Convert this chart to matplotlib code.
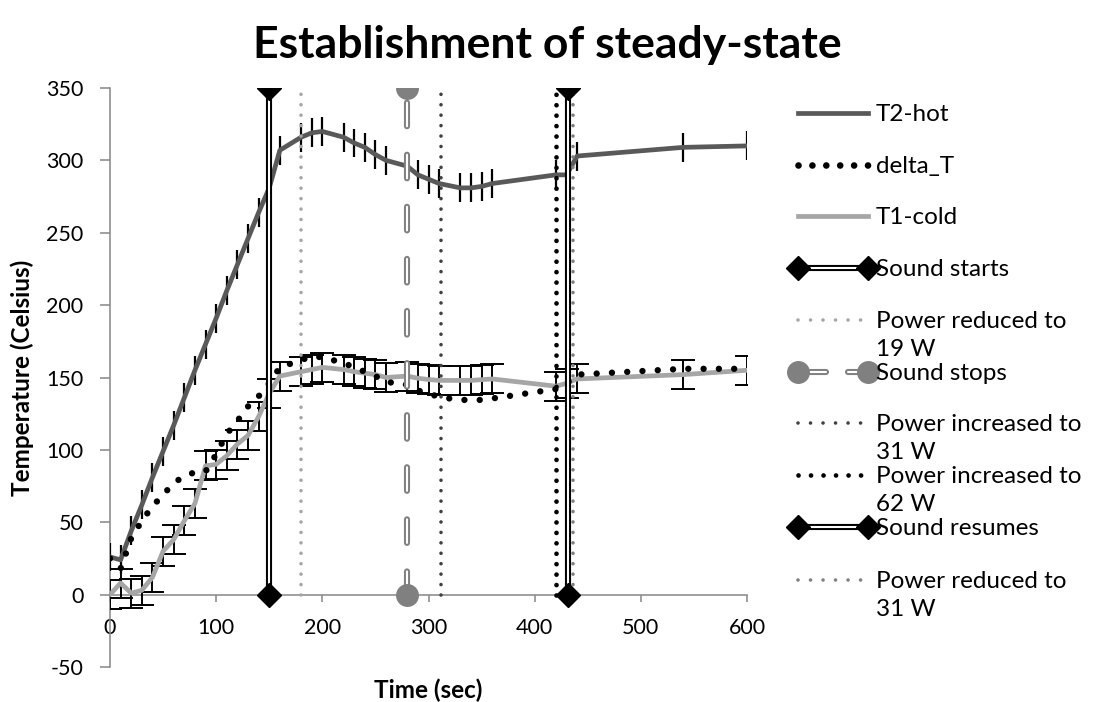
import matplotlib
matplotlib.use("Agg")
import matplotlib.pyplot as plt
from matplotlib.lines import Line2D

plt.rcParams['font.family'] = ['Lato', 'DejaVu Sans']
plt.rcParams['lines.scale_dashes'] = False
plt.rcParams['axes.unicode_minus'] = False

# ---------------- data ----------------
time_s = [0, 10, 20, 30, 40, 50, 60, 70, 80, 90, 100, 110, 120, 130, 140, 150,
          160, 180, 190, 200, 220, 230, 240, 250, 260, 280, 290, 300, 310,
          330, 340, 350, 360, 420, 430, 440, 540, 600]
t2_hot = [26, 24, 44, 62, 81, 99, 117, 136, 155, 173, 191, 210, 228, 246, 264, 281,
          307, 316, 319, 320, 316, 312, 309, 304, 300, 296, 290, 287, 284,
          281, 281, 282, 284, 290, 290, 303, 309, 310]
t1_cold = [0, 8, 1, 3, 12, 30, 38, 51, 63, 89, 90, 96, 104, 110, 123, 139,
           151, 154, 155.5, 157, 155.5, 154, 153, 152, 150, 151, 149.5, 148.6, 148,
           148, 148, 148.5, 149, 144, 146, 149, 152, 155]
delta_t = [25, 18, 39, 51, 61, 69, 77, 82, 84.5, 85, 97, 111, 120, 130, 137, 146,
           157, 162, 164.6, 164, 160, 157, 154, 151, 147, 145, 141, 139, 136.5,
           134.5, 134.5, 134.5, 135.5, 142, 146, 152, 156, 156]
hot_err = [10] * len(time_s)
cold_err = [10] * len(time_s)

event_names = ["Sound starts", "Power reduced to\n19 W", "Sound stops",
               "Power increased to\n31 W", "Power increased to\n62 W",
               "Sound resumes", "Power reduced to\n31 W"]
event_times = [150, 180, 280, 312, 420, 431, 436]
event_span = [0, 350]

# ---------------- figure ----------------
W, H = 1095, 702
fig = plt.figure(figsize=(W / 100, H / 100), dpi=100)
ax = fig.add_axes([110 / W, 35 / H, (747 - 110) / W, (667 - 88) / H])
ax.set_xlim(0, 600)
ax.set_ylim(-50, 350)

axis_col = '#868686'
for s in ['top', 'right']:
    ax.spines[s].set_visible(False)
ax.spines['left'].set_color(axis_col)
ax.spines['bottom'].set_color(axis_col)
ax.spines['left'].set_linewidth(1.1)
ax.spines['bottom'].set_linewidth(1.1)
ax.spines['bottom'].set_position(('data', 0))
ax.set_xticks(range(0, 601, 100))
ax.set_yticks(range(-50, 351, 50))
ax.tick_params(axis='both', direction='out', color=axis_col,
               labelsize=15.5, labelcolor='black', width=1.1)
ax.tick_params(axis='x', length=5, pad=12)
ax.tick_params(axis='y', length=7, pad=12)

HOT = '#595959'
COLD = '#A6A6A6'

# series
ax.errorbar(time_s, t2_hot, yerr=hot_err, fmt='none', ecolor='black',
            elinewidth=1.6, capsize=0, zorder=3)
ax.plot(time_s, t2_hot, color=HOT, lw=3.4, solid_capstyle='round',
        solid_joinstyle='round', zorder=4)
ax.plot(time_s, delta_t, color='black', lw=4.6, linestyle=(0, (0.01, 11)),
        dash_capstyle='round', zorder=5)
ax.errorbar(time_s, t1_cold, yerr=cold_err, fmt='none', ecolor='black',
            elinewidth=1.4, capsize=8.5, capthick=1.4, zorder=3)
ax.plot(time_s, t1_cold, color=COLD, lw=3.4, solid_capstyle='round',
        solid_joinstyle='round', zorder=4)

# event line styles
def double_line(x, color, marker, ms, dashed=False):
    kw = {}
    if dashed:
        kw = dict(linestyle=(0, (17, 20.5)), dash_capstyle='round')
    ax.plot([x, x], event_span, color=color, lw=4.4, zorder=6, **kw)
    ax.plot([x, x], event_span, color='white', lw=1.5, zorder=7, **kw)
    ax.plot([x, x], event_span, linestyle='none', marker=marker, ms=ms,
            color=color, zorder=8)

def dotted_line(x, color, lw, gap):
    ax.plot([x, x], event_span, color=color, lw=lw, linestyle=(0, (0.01, gap)),
            dash_capstyle='round', zorder=6)

styles = [
    ('double', 'black', 'D', 12.5),
    ('dot', '#A6A6A6', 2.6, 7.5),
    ('dashdouble', '#808080', 'o', 15.5),
    ('dot', '#404040', 2.6, 7.5),
    ('dot', 'black', 3.4, 7.5),
    ('double', 'black', 'D', 12.5),
    ('dot', '#808080', 2.6, 7.5),
]
for t, st in zip(event_times, styles):
    if st[0] == 'double':
        double_line(t, st[1], st[2], st[3])
    elif st[0] == 'dashdouble':
        double_line(t, st[1], st[2], st[3], dashed=True)
    else:
        dotted_line(t, st[1], st[2], st[3])

# labels
fig.text(0.5, 1 - 45 / H, 'Establishment of steady-state', ha='center',
         va='center', fontsize=32, fontweight='bold')
fig.text((110 + 747) / 2 / W, 1 - 690 / H, 'Time (sec)', ha='center', va='center',
         fontsize=17.5, fontweight='bold')
fig.text(22 / W, 1 - 378 / H, 'Temperature (Celsius)', ha='center', va='center',
         rotation=90, fontsize=17.5, fontweight='bold')

# ---------------- legend (manual) ----------------
leg_labels = ['T2-hot', 'delta_T', 'T1-cold'] + event_names
leg_y = [113, 165, 216, 268, 320, 372, 423, 475, 527, 580]
hx0, hx1, tx = 798, 868, 876

def fx(p):
    return p / W

def fy(p):
    return 1 - p / H

def add_line(y, x0=hx0, x1=hx1, **kw):
    fig.add_artist(Line2D([fx(x0), fx(x1)], [fy(y), fy(y)], transform=fig.transFigure, **kw))

for i, (lab, y) in enumerate(zip(leg_labels, leg_y)):
    if i == 0:
        add_line(y, color=HOT, lw=3.4)
    elif i == 1:
        add_line(y, color='black', lw=4.8, linestyle=(0, (0.01, 10)), dash_capstyle='round')
    elif i == 2:
        add_line(y, color=COLD, lw=3.4)
    else:
        st = styles[i - 3]
        if st[0] == 'double':
            add_line(y, color=st[1], lw=4.4)
            add_line(y, color='white', lw=1.5)
            add_line(y, color=st[1], linestyle='none', marker=st[2], ms=st[3])
        elif st[0] == 'dashdouble':
            for a, b in [(hx0, 826), (848, hx1)]:
                add_line(y, a, b, color=st[1], lw=4.4, solid_capstyle='round')
                add_line(y, a, b, color='white', lw=1.5, solid_capstyle='round')
            add_line(y, color=st[1], linestyle='none', marker=st[2], ms=st[3])
        else:
            add_line(y, color=st[1], lw=st[2], linestyle=(0, (0.01, st[3] + 1.5)),
                     dash_capstyle='round')
    for k, line in enumerate(lab.split('\n')):
        fig.text(fx(tx), fy(y + 28 * k + 8), line, ha='left', va='baseline',
                 fontsize=17.5, transform=fig.transFigure)

fig.savefig('out.png', dpi=100)
